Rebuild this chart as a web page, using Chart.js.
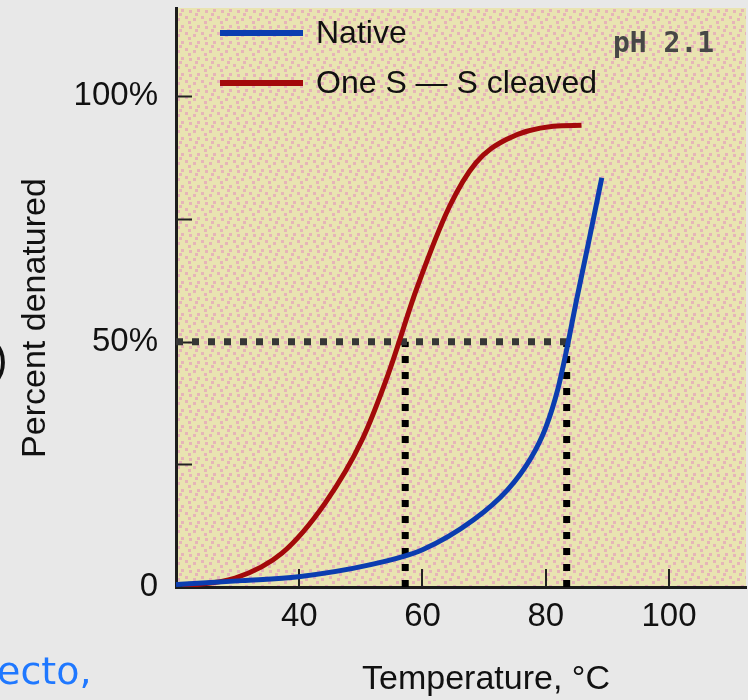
<!DOCTYPE html>
<html>
<head>
<meta charset="utf-8">
<script src="https://cdn.jsdelivr.net/npm/chart.js@4/dist/chart.umd.min.js"></script>
<style>
  html, body { margin: 0; padding: 0; background: #e8e8e8; }
  #wrap { width: 748px; height: 700px; position: relative; }
</style>
</head>
<body>
<div id="wrap"><canvas id="c" width="748" height="700"></canvas></div>
<script>
// ---- data ----
const seriesLabels = ['Native', 'One S \u2014 S cleaved'];
const tempNative = [20, 30.7, 39.9, 51.4, 60, 68.3, 73.8, 77.6, 80, 82, 83.5, 85, 87, 89.1];
const pctNative  = [0.5, 1.3, 2.1, 4.5, 7.6, 13.7, 19.8, 26.3, 32.5, 40.5, 49, 58.5, 70.5, 83.4];
const tempCleaved = [21, 29.6, 37.2, 44.2, 50.2, 54.5, 59, 64.4, 68.7, 73.6, 81.2, 85.8];
const pctCleaved  = [0.2, 1.8, 6.9, 17.1, 30, 43.6, 60.6, 77.6, 86.5, 91.2, 93.9, 94.1];
const halfLevel = 50;
const midTemps = [57.2, 83.4];
const halfLineEnd = 83.9;
const xTicks = [40, 60, 80, 100];
const yTicks = [0, 25, 50, 75, 100];
const yTickLabels = ['0', '', '50%', '', '100%'];
const xTitle = 'Temperature, \u00B0C';
const yTitle = 'Percent denatured';
const noteText = 'pH 2.1';

const FONT = "'Liberation Sans', Arial, sans-serif";

function pts(xs, ys) { return xs.map((x, i) => ({ x: x, y: ys[i] })); }

// background pattern (khaki with pink dots)
const pc = document.createElement('canvas');
pc.width = 16; pc.height = 16;
const pctx = pc.getContext('2d');
pctx.fillStyle = '#e9e4b1';
pctx.fillRect(0, 0, 16, 16);
pctx.fillStyle = '#e6b4b9';
[[1, 2], [9, 0], [5, 9], [13, 10], [12, 5], [3, 13]].forEach(p => pctx.fillRect(p[0], p[1], 3, 3));

const bgPlugin = {
  id: 'bg',
  beforeDraw(chart) {
    const { ctx, chartArea: a } = chart;
    ctx.save();
    ctx.fillStyle = '#e8e8e8';
    ctx.fillRect(0, 0, chart.width, chart.height);
    ctx.fillStyle = ctx.createPattern(pc, 'repeat');
    ctx.fillRect(a.left, a.top, a.right - a.left, a.bottom - a.top);
    ctx.restore();
  },
  beforeDatasetsDraw(chart) {
    const { ctx, chartArea: a, scales } = chart;
    ctx.save();
    ctx.strokeStyle = '#222';
    ctx.lineWidth = 2;
    yTicks.forEach(v => {
      if (v === 0) return;
      const y = Math.round(scales.y.getPixelForValue(v)) + 0.5;
      ctx.beginPath(); ctx.moveTo(a.left, y); ctx.lineTo(a.left + 16, y); ctx.stroke();
    });
    xTicks.forEach(v => {
      const x = Math.round(scales.x.getPixelForValue(v));
      ctx.beginPath(); ctx.moveTo(x, a.bottom); ctx.lineTo(x, a.bottom - 18); ctx.stroke();
    });
    ctx.restore();
  },
  afterDraw(chart) {
    const { ctx } = chart;
    ctx.save();
    // axis titles
    ctx.fillStyle = '#111';
    ctx.font = '34px ' + FONT;
    ctx.textAlign = 'center';
    ctx.textBaseline = 'middle';
    ctx.fillText(xTitle, 486, 680);
    ctx.save();
    ctx.translate(36, 318);
    ctx.rotate(-Math.PI / 2);
    ctx.fillText(yTitle, 0, 0);
    ctx.restore();
    // pH note
    ctx.fillStyle = '#474747';
    ctx.font = "bold 28px 'DejaVu Sans Mono', monospace";
    ctx.textAlign = 'left';
    ctx.textBaseline = 'alphabetic';
    ctx.fillText(noteText, 613, 52);
    // legend
    const ds = chart.data.datasets;
    const ly = [33, 83];
    for (let i = 0; i < 2; i++) {
      ctx.strokeStyle = ds[i].borderColor;
      ctx.lineWidth = 6;
      ctx.beginPath(); ctx.moveTo(220, ly[i]); ctx.lineTo(303, ly[i]); ctx.stroke();
      ctx.fillStyle = '#111';
      ctx.font = '32px ' + FONT;
      ctx.textBaseline = 'middle';
      ctx.fillText(ds[i].label, 316, ly[i] + 1);
    }
    // slide remnants
    ctx.fillStyle = '#111';
    ctx.font = '44px ' + FONT;
    ctx.fillText(')', -7, 362);
    ctx.fillStyle = '#1f78ff';
    ctx.font = "38px 'DejaVu Sans', sans-serif";
    ctx.textBaseline = 'alphabetic';
    ctx.fillText('ecto,', -3, 684);
    ctx.restore();
  }
};

const dotted = (data, color) => ({
  label: '', data: data, borderColor: color, borderWidth: 7,
  borderDash: [7, 9], borderCapStyle: 'butt', pointRadius: 0, tension: 0, fill: false
});

const noPad = s => { s.paddingTop = 0; s.paddingBottom = 0; s.paddingLeft = 0; s.paddingRight = 0; };

new Chart(document.getElementById('c'), {
  type: 'line',
  data: {
    datasets: [
      { label: seriesLabels[0], data: pts(tempNative, pctNative), borderColor: '#0b3db0', borderWidth: 5,
        pointRadius: 0, cubicInterpolationMode: 'monotone', fill: false },
      { label: seriesLabels[1], data: pts(tempCleaved, pctCleaved), borderColor: '#a30a0a', borderWidth: 5,
        pointRadius: 0, cubicInterpolationMode: 'monotone', fill: false },
      dotted([{ x: 20, y: halfLevel }, { x: halfLineEnd, y: halfLevel }], '#363636'),
      dotted([{ x: midTemps[0], y: 0 }, { x: midTemps[0], y: halfLevel }], '#000'),
      dotted([{ x: midTemps[1], y: 0 }, { x: midTemps[1], y: halfLevel }], '#000')
    ]
  },
  options: {
    responsive: false,
    animation: false,
    devicePixelRatio: 1,
    layout: { padding: { left: 0, right: 2, top: 8, bottom: 0 } },
    plugins: { legend: { display: false }, tooltip: { enabled: false } },
    scales: {
      x: {
        type: 'linear', min: 20, max: 112.5,
        afterBuildTicks: s => { s.ticks = xTicks.map(v => ({ value: v })); },
        afterFit: s => { s.height = 113; noPad(s); },
        grid: { drawOnChartArea: false, drawTicks: false },
        border: { display: true, color: '#1c1c1c', width: 3 },
        ticks: { color: '#111', font: { family: FONT, size: 33 }, padding: 10, maxRotation: 0,
                 callback: v => String(v) }
      },
      y: {
        type: 'linear', min: 0, max: 118,
        afterBuildTicks: s => { s.ticks = yTicks.map(v => ({ value: v })); },
        afterFit: s => { s.width = 176; noPad(s); },
        grid: { drawOnChartArea: false, drawTicks: false },
        border: { display: true, color: '#1c1c1c', width: 3 },
        ticks: { color: '#111', font: { family: FONT, size: 33 }, padding: 18,
                 callback: v => yTickLabels[yTicks.indexOf(v)] }
      }
    }
  },
  plugins: [bgPlugin]
});
</script>
</body>
</html>
